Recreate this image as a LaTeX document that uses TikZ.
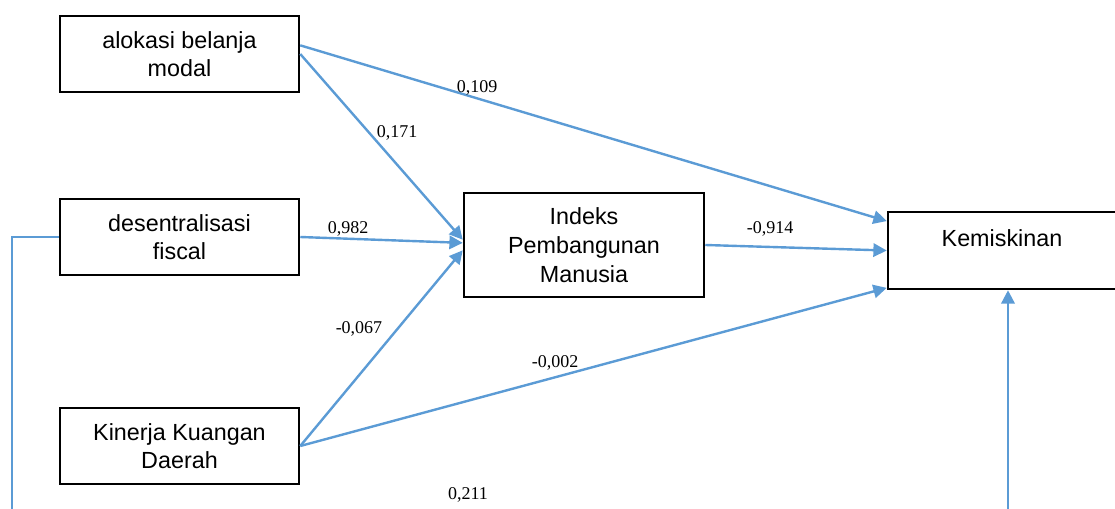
\documentclass[tikz,border=0pt]{standalone}
\usepackage{fontspec}
\setmainfont{Liberation Serif}
\newfontfamily\boxfont{Liberation Sans}
\usetikzlibrary{arrows.meta,calc}
\definecolor{lineblue}{HTML}{5B9BD5}
\begin{document}
\begin{tikzpicture}[x=0.75pt,y=-0.75pt,
  box/.style={draw=black,line width=1.9pt,inner sep=0pt,align=center,font=\boxfont\fontsize{17.5}{20.5}\selectfont,fill=white},
  conn/.style={draw=lineblue,line width=1.8pt,-{Triangle[width=10pt,length=10pt]}},
  plain/.style={draw=lineblue,line width=1.8pt},
  lbl/.style={font=\fontsize{13.5}{15}\selectfont,inner sep=0pt}]
\useasboundingbox (0,0) rectangle (1115,509);
\node[box,minimum width=179.25pt,minimum height=57pt] (b1) at (179.5,54) {alokasi belanja\\modal};
\node[box,minimum width=179.25pt,minimum height=57pt] (b2) at (179.5,237) {desentralisasi\\fiscal};
\node[box,minimum width=179.25pt,minimum height=57pt] (b3) at (179.5,446) {Kinerja Kuangan\\Daerah};
\node[box,minimum width=180pt,minimum height=78pt,font=\boxfont\fontsize{17.5}{22}\selectfont] (ipm) at (584,245) {Indeks\\Pembangunan\\Manusia};
\node[box,minimum width=171.75pt,minimum height=57.75pt] (kem) at (1002.5,250.5) {};
\node[font=\boxfont\fontsize{17.5}{20}\selectfont,inner sep=0pt] (kemt) at (1002,238) {Kemiskinan};
% connectors
\coordinate (b1a) at ($(b1.north east)!0.39!(b1.south east)$);
\coordinate (kema) at ($(kem.north west)!0.13!(kem.south west)$);
\coordinate (kemc) at ($(kem.north west)!0.97!(kem.south west)$);
\coordinate (ipma) at ($(ipm.north west)!0.45!(ipm.south west)$);
\coordinate (ipmb) at ($(ipm.north west)!0.48!(ipm.south west)$);
\coordinate (ipmc) at ($(ipm.north west)!0.55!(ipm.south west)$);
\draw[conn] (b1a) -- (kema);
\draw[conn] (b1.east) -- (ipma);
\draw[conn] (b2.east) -- (ipmb);
\draw[conn] (b3.east) -- (ipmc);
\draw[conn] (b3.east) -- (kemc);
\draw[conn] (ipm.east) -- (kem.west);
\coordinate (bl) at (12,512);
\draw[plain] (b2.west) -| (bl);
\coordinate (br) at (1008,512);
\draw[conn] (br) -- (br |- kem.south);
% labels
\node[lbl] (l1) at (477,88) {0,109};
\node[lbl] (l2) at (397,133) {0,171};
\node[lbl] (l3) at (348,229) {0,982};
\node[lbl] (l4) at (770,229) {-0,914};
\node[lbl] (l5) at (359,329) {-0,067};
\node[lbl] (l6) at (555,363) {-0,002};
\node[lbl] (l7) at (468,495) {0,211};
\end{tikzpicture}
\end{document}
